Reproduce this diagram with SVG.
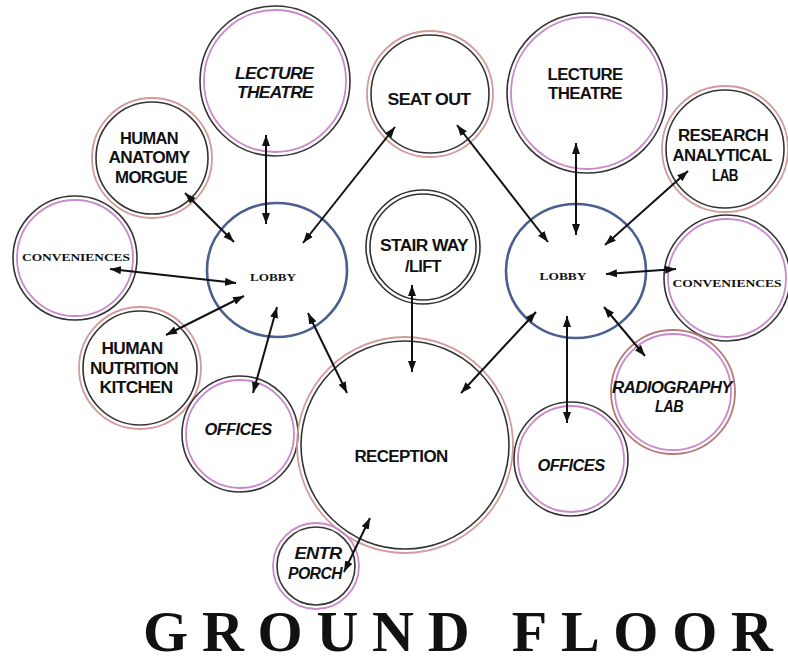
<svg xmlns="http://www.w3.org/2000/svg" width="788" height="664" viewBox="0 0 788 664">
<defs>
<marker id="ah" viewBox="0 -5 12 10" refX="11" refY="0" markerWidth="12" markerHeight="10" markerUnits="userSpaceOnUse" orient="auto-start-reverse">
<path d="M0,-4 L11,0 L0,4 z" fill="#111"/>
</marker>
</defs>
<style>
.dk{fill:none;stroke:#333;stroke-width:1.6}
.pk{fill:none;stroke:#d49a9a;stroke-width:1.8}
.mg{fill:none;stroke:#c98ac9;stroke-width:1.8}
.rd{fill:none;stroke:#b87878;stroke-width:1.8}
.lb{fill:none;stroke:#4a5f8e;stroke-width:2.6}
.t{font-family:"Liberation Sans",Arial,sans-serif;font-weight:bold;fill:#111;text-anchor:middle;font-size:16px;letter-spacing:-0.6px}
.ti{font-family:"Liberation Sans",Arial,sans-serif;font-weight:bold;font-style:italic;fill:#111;text-anchor:middle;font-size:16px;letter-spacing:-0.6px}
.s{font-family:"Liberation Serif","Times New Roman",serif;font-weight:bold;fill:#111;text-anchor:middle;font-size:11px}
.gf{font-family:"Liberation Serif","Times New Roman",serif;font-weight:bold;fill:#111;font-size:58px}
.ar{fill:none;stroke:#111;stroke-width:2;marker-start:url(#ah);marker-end:url(#ah)}
</style>
<rect width="788" height="664" fill="#fff"/>

<g id="lecture-theatre-left">
<circle class="dk" cx="275" cy="81" r="75"/><circle class="mg" cx="275" cy="81" r="71"/>
<text class="ti" x="274" y="79" textLength="78" lengthAdjust="spacingAndGlyphs">LECTURE</text>
<text class="ti" x="275" y="98" textLength="76" lengthAdjust="spacingAndGlyphs">THEATRE</text>
</g>
<g id="human-anatomy-morgue">
<circle class="pk" cx="152" cy="158" r="60"/><circle class="dk" cx="152" cy="158" r="56"/>
<text class="t" x="149" y="144" textLength="58" lengthAdjust="spacingAndGlyphs">HUMAN</text>
<text class="t" x="149" y="163" textLength="81" lengthAdjust="spacingAndGlyphs">ANATOMY</text>
<text class="t" x="151" y="183" textLength="72" lengthAdjust="spacingAndGlyphs">MORGUE</text>
</g>
<g id="seat-out">
<circle class="pk" cx="430" cy="94" r="63"/><circle class="dk" cx="430" cy="94" r="59"/>
<text class="t" x="429" y="105" textLength="83" lengthAdjust="spacingAndGlyphs">SEAT OUT</text>
</g>
<g id="lecture-theatre-right">
<circle class="dk" cx="587" cy="93" r="80"/><circle class="mg" cx="587" cy="93" r="76"/>
<text class="t" x="585" y="80" textLength="75" lengthAdjust="spacingAndGlyphs">LECTURE</text>
<text class="t" x="585" y="99" textLength="74" lengthAdjust="spacingAndGlyphs">THEATRE</text>
</g>
<g id="research-analytical-lab">
<circle class="pk" cx="725" cy="149" r="63"/><circle class="dk" cx="725" cy="149" r="59"/>
<text class="t" x="723" y="141" textLength="90" lengthAdjust="spacingAndGlyphs">RESEARCH</text>
<text class="t" x="722" y="161" textLength="99" lengthAdjust="spacingAndGlyphs">ANALYTICAL</text>
<text class="t" x="725" y="181" textLength="26" lengthAdjust="spacingAndGlyphs">LAB</text>
</g>
<g id="conveniences-left">
<circle class="dk" cx="75" cy="258" r="62"/><circle class="mg" cx="75" cy="258" r="58"/>
<text class="s" x="76" y="261" textLength="108" lengthAdjust="spacingAndGlyphs">CONVENIENCES</text>
</g>
<g id="lobby-left">
<ellipse class="lb" cx="277" cy="270" rx="70" ry="67"/>
<text class="s" x="273" y="281" textLength="46" lengthAdjust="spacingAndGlyphs">LOBBY</text>
</g>
<g id="stair-way-lift">
<circle class="dk" cx="423" cy="247" r="57"/><circle class="dk" cx="423" cy="247" r="53"/>
<text class="t" x="424" y="251" textLength="88" lengthAdjust="spacingAndGlyphs">STAIR WAY</text>
<text class="t" x="423" y="272" textLength="36" lengthAdjust="spacingAndGlyphs">/LIFT</text>
</g>
<g id="lobby-right">
<ellipse class="lb" cx="576" cy="271" rx="70" ry="67"/>
<text class="s" x="563" y="280" textLength="47" lengthAdjust="spacingAndGlyphs">LOBBY</text>
</g>
<g id="conveniences-right">
<circle class="dk" cx="727" cy="278" r="63"/><circle class="mg" cx="727" cy="278" r="59"/>
<text class="s" x="727" y="287" textLength="109" lengthAdjust="spacingAndGlyphs">CONVENIENCES</text>
</g>
<g id="human-nutrition-kitchen">
<circle class="pk" cx="140" cy="368" r="61"/><circle class="dk" cx="140" cy="368" r="57"/>
<text class="t" x="132" y="354" textLength="61" lengthAdjust="spacingAndGlyphs">HUMAN</text>
<text class="t" x="134" y="374" textLength="88" lengthAdjust="spacingAndGlyphs">NUTRITION</text>
<text class="t" x="136" y="393" textLength="73" lengthAdjust="spacingAndGlyphs">KITCHEN</text>
</g>
<g id="radiography-lab">
<circle class="rd" cx="673" cy="392" r="62"/><circle class="mg" cx="673" cy="392" r="58"/>
<text class="ti" x="672" y="393" textLength="120" lengthAdjust="spacingAndGlyphs">RADIOGRAPHY</text>
<text class="ti" x="669" y="412" textLength="28" lengthAdjust="spacingAndGlyphs">LAB</text>
</g>
<g id="offices-left">
<circle class="dk" cx="240" cy="434" r="58"/><circle class="mg" cx="240" cy="434" r="54"/>
<text class="ti" x="238" y="435" textLength="67" lengthAdjust="spacingAndGlyphs">OFFICES</text>
</g>
<g id="reception">
<circle class="pk" cx="405" cy="445" r="108"/><circle class="dk" cx="405" cy="445" r="104"/>
<text class="t" x="401" y="462" textLength="93" lengthAdjust="spacingAndGlyphs">RECEPTION</text>
</g>
<g id="offices-right">
<circle class="dk" cx="571" cy="459" r="57"/><circle class="mg" cx="571" cy="459" r="53"/>
<text class="ti" x="571" y="471" textLength="67" lengthAdjust="spacingAndGlyphs">OFFICES</text>
</g>
<g id="entr-porch">
<circle class="mg" cx="316" cy="566" r="43"/><circle class="dk" cx="316" cy="566" r="39"/>
<text class="ti" x="318" y="559" textLength="47" lengthAdjust="spacingAndGlyphs">ENTR</text>
<text class="ti" x="315" y="579" textLength="54" lengthAdjust="spacingAndGlyphs">PORCH</text>
</g>

<g id="connectors">
<line class="ar" x1="266" y1="135" x2="266" y2="224"/>
<line class="ar" x1="185" y1="193" x2="234" y2="242"/>
<line class="ar" x1="110" y1="269" x2="236" y2="283"/>
<line class="ar" x1="166" y1="335" x2="244" y2="296"/>
<line class="ar" x1="253" y1="393" x2="277" y2="307"/>
<line class="ar" x1="308" y1="313" x2="347" y2="393"/>
<line class="ar" x1="395" y1="127" x2="303" y2="243"/>
<line class="ar" x1="412" y1="285" x2="412" y2="372"/>
<line class="ar" x1="457" y1="125" x2="548" y2="242"/>
<line class="ar" x1="576" y1="143" x2="576" y2="235"/>
<line class="ar" x1="688" y1="171" x2="605" y2="245"/>
<line class="ar" x1="606" y1="274" x2="676" y2="269"/>
<line class="ar" x1="604" y1="307" x2="645" y2="356"/>
<line class="ar" x1="567" y1="316" x2="567" y2="423"/>
<line class="ar" x1="536" y1="312" x2="461" y2="393"/>
<line class="ar" x1="370" y1="518" x2="344" y2="572"/>
</g>

<text class="gf" x="143" y="651" textLength="630" lengthAdjust="spacing">GROUND FLOOR</text>
</svg>
